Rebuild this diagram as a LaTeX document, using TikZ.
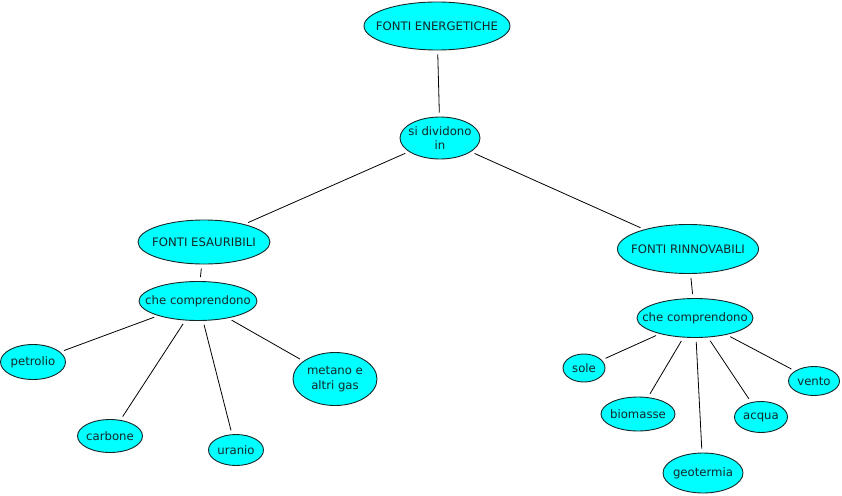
\documentclass[tikz,border=0pt]{standalone}
\usepackage{fontspec}
\setmainfont{DejaVu Sans}
\usetikzlibrary{shapes.geometric}
\definecolor{conceptfill}{RGB}{0,255,255}
\definecolor{conceptline}{RGB}{20,40,40}

\begin{document}
\begin{tikzpicture} [x=1pt,y=-1pt,
  concept/.style={ellipse,draw=conceptline,line width=0.9pt,fill=conceptfill,
    inner xsep=-15pt,inner ysep=-8pt,align=center,text=conceptline,
    font=\fontsize{11.7}{14.5}\selectfont},
  link/.style={draw=black,line width=0.8pt,shorten <=4pt,shorten >=4pt}]
\useasboundingbox (0,0) rectangle (842,495);
\node [concept,minimum width=146pt,minimum height=48pt] (fe) at (437,26) {FONTI ENERGETICHE};
\node [concept,minimum width=80pt,minimum height=42pt] (div) at (440,138) {si dividono\\in};
\node [concept,minimum width=132pt,minimum height=44pt] (esa) at (204,242) {FONTI ESAURIBILI};
\node [concept,minimum width=141pt,minimum height=49pt] (rin) at (688,249) {FONTI RINNOVABILI};
\node [concept,minimum width=118pt,minimum height=39pt] (ce) at (198,301) {che comprendono};
\node [concept,minimum width=116pt,minimum height=39pt] (cr) at (695,318) {che comprendono};
\node [concept,minimum width=65pt,minimum height=35pt] (pet) at (33,362) {petrolio};
\node [concept,minimum width=65pt,minimum height=33pt] (car) at (110,436) {carbone};
\node [concept,minimum width=55pt,minimum height=31pt] (ura) at (236,450) {uranio};
\node [concept,minimum width=84pt,minimum height=53pt] (met) at (335,379) {metano e\\altri gas};
\node [concept,minimum width=42pt,minimum height=28pt] (sol) at (584,368) {sole};
\node [concept,minimum width=74pt,minimum height=34pt] (bio) at (638,414) {biomasse};
\node [concept,minimum width=80pt,minimum height=40pt] (geo) at (703,473) {geotermia};
\node [concept,minimum width=53pt,minimum height=31pt] (acq) at (761,417) {acqua};
\node [concept,minimum width=51pt,minimum height=29pt] (ven) at (814,381) {vento};
\draw [link] (fe) -- (div);
\draw [link] (div) -- (esa);
\draw [link] (div) -- (rin);
\draw [link] (esa) -- (ce);
\draw [link] (rin) -- (cr);
\draw [link] (ce) -- (pet);
\draw [link] (ce) -- (car);
\draw [link] (ce) -- (ura);
\draw [link] (ce) -- (met);
\draw [link] (cr) -- (sol);
\draw [link] (cr) -- (bio);
\draw [link] (cr) -- (geo);
\draw [link] (cr) -- (acq);
\draw [link] (cr) -- (ven);
\end{tikzpicture}
\end{document}
